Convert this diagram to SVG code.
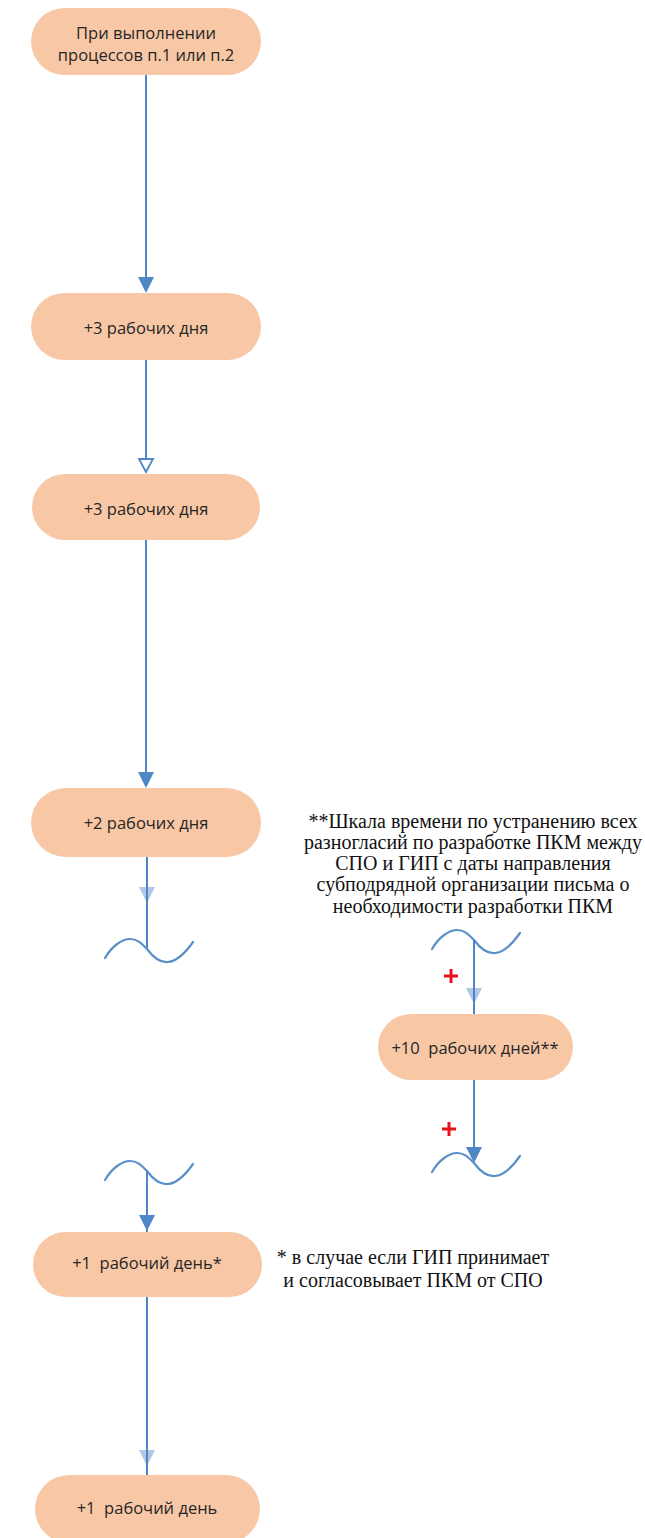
<svg xmlns="http://www.w3.org/2000/svg" xmlns:xlink="http://www.w3.org/1999/xlink" width="645" height="1538" viewBox="0 0 645 1538">
<style>
.node rect{fill:#F8C8A6;}
.nt{font-family:"Open Sans","Liberation Sans",sans-serif;font-size:16.5px;fill:#262626;text-anchor:middle;white-space:pre;}
.note{font-family:"Liberation Serif","Times New Roman",serif;font-size:20px;fill:#111;text-anchor:middle;}
.ln{stroke:#4F86C6;stroke-width:2;fill:none;}
.wave{stroke:#5B8FC8;stroke-width:2.2;fill:none;stroke-linecap:round;}
.ah{fill:#4F86C6;}
.ahf{fill:#4F86C6;opacity:0.45;}
.aho{fill:#fff;stroke:#4F86C6;stroke-width:1.8;}
.plus{stroke:#E8101A;stroke-width:3;}
</style>
<defs>
<path id="tri" d="M-8,-16 L8,-16 L0,0 Z"/>
<path id="trih" d="M-7,-13 L7,-13 L0,0 Z"/>
<path id="wv" d="M105,958 C112,946 122,939 130,939 C138,939 142,944 147,949 C153,957 160,963 168,962 C178,961 186,952 193,942"/>
</defs>
<g id="connectors">
<line class="ln" x1="146" y1="75" x2="146" y2="286"/>
<use href="#tri" class="ah" x="146" y="293"/>
<line class="ln" x1="146" y1="360" x2="146" y2="460"/>
<use href="#trih" class="aho" x="146" y="472"/>
<line class="ln" x1="146" y1="540" x2="146" y2="780"/>
<use href="#tri" class="ah" x="146" y="788"/>
<line class="ln" x1="147" y1="857" x2="147" y2="949"/>
<use href="#tri" class="ahf" x="147" y="903" transform="translate(0,0)"/>
<use href="#wv" class="wave"/>
<use href="#wv" class="wave" transform="translate(327,-9)"/>
<line class="ln" x1="474" y1="940" x2="474" y2="1015"/>
<use href="#tri" class="ahf" x="474" y="1004"/>
<line class="ln" x1="474" y1="1080" x2="474" y2="1156"/>
<use href="#tri" class="ah" x="474" y="1163"/>
<use href="#wv" class="wave" transform="translate(327,214)"/>
<use href="#wv" class="wave" transform="translate(0,222)"/>
<line class="ln" x1="147" y1="1171" x2="147" y2="1232"/>
<use href="#tri" class="ah" x="147" y="1231"/>
<line class="ln" x1="147" y1="1297" x2="147" y2="1475"/>
<use href="#tri" class="ahf" x="147" y="1466"/>
<g id="plus1"><line class="plus" x1="444" y1="976" x2="458" y2="976"/><line class="plus" x1="451" y1="969" x2="451" y2="983"/></g>
<g id="plus2"><line class="plus" x1="442" y1="1129" x2="456" y2="1129"/><line class="plus" x1="449" y1="1122" x2="449" y2="1136"/></g>
</g>
<g id="n1" class="node"><rect x="31" y="8" width="230" height="67" rx="33.5"/><text class="nt" x="146" y="39">При выполнении</text><text class="nt" x="146" y="61">процессов п.1 или п.2</text></g>
<g id="n2" class="node"><rect x="31" y="293" width="230" height="67" rx="33.5"/><text class="nt" x="146" y="334">+3 рабочих дня</text></g>
<g id="n3" class="node"><rect x="32" y="474" width="228" height="66" rx="33"/><text class="nt" x="146" y="515">+3 рабочих дня</text></g>
<g id="n4" class="node"><rect x="31" y="788" width="230" height="69" rx="34.5"/><text class="nt" x="146" y="829">+2 рабочих дня</text></g>
<g id="n5" class="node"><rect x="378" y="1014" width="195" height="66" rx="33"/><text class="nt" x="475" y="1054">+10  рабочих дней**</text></g>
<g id="n6" class="node"><rect x="33" y="1232" width="229" height="65" rx="32.5"/><text class="nt" x="147" y="1269">+1  рабочий день*</text></g>
<g id="n7" class="node"><rect x="35" y="1475" width="225" height="68" rx="34"/><text class="nt" x="147" y="1514">+1  рабочий день</text></g>
<g id="note1">
<text class="note" x="473" y="828">**Шкала времени по устранению всех</text>
<text class="note" x="473" y="849">разногласий по разработке ПКМ между</text>
<text class="note" x="473" y="870">СПО и ГИП с даты направления</text>
<text class="note" x="473" y="891">субподрядной организации письма о</text>
<text class="note" x="473" y="913">необходимости разработки ПКМ</text>
</g>
<g id="note2">
<text class="note" x="413" y="1264">* в случае если ГИП принимает</text>
<text class="note" x="413" y="1287">и согласовывает ПКМ от СПО</text>
</g>
</svg>
